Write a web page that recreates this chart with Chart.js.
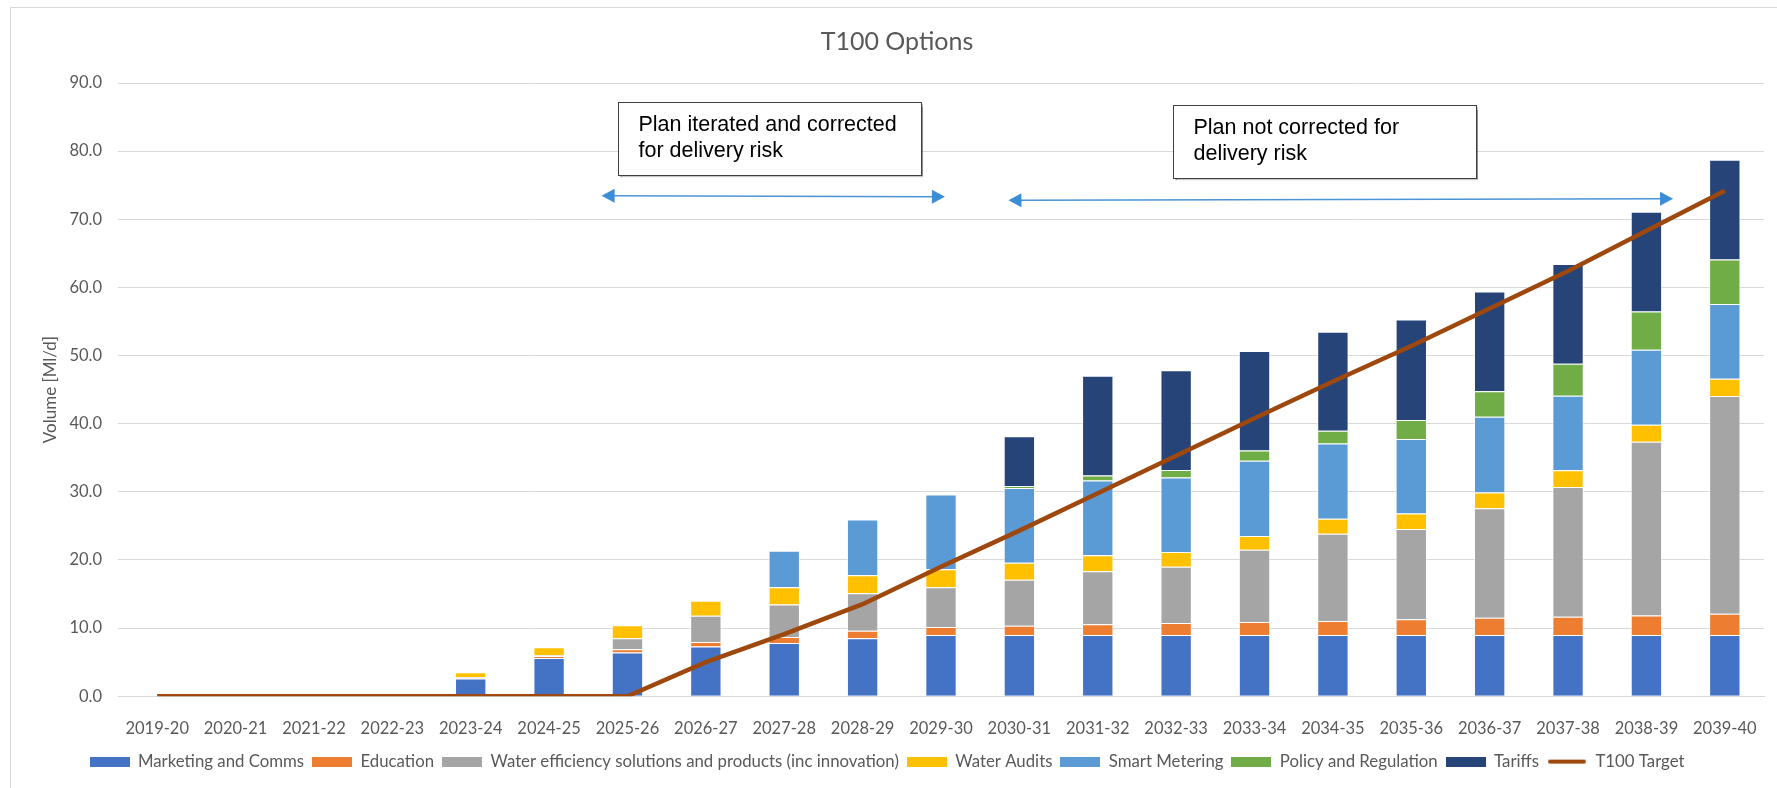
<!DOCTYPE html>
<html>
<head>
<meta charset="utf-8">
<title>T100 Options</title>
<script src="https://cdn.jsdelivr.net/npm/chart.js@4.4.1/dist/chart.umd.min.js"></script>
<style>
  html, body { margin: 0; padding: 0; background: #fff; }
  #wrap { width: 1777px; height: 788px; position: relative; }
</style>
</head>
<body>
<div id="wrap"><canvas id="chart"></canvas></div>
<script>
const years = [
  "2019-20", "2020-21", "2021-22", "2022-23", "2023-24", "2024-25", "2025-26",
  "2026-27", "2027-28", "2028-29", "2029-30", "2030-31", "2031-32", "2032-33",
  "2033-34", "2034-35", "2035-36", "2036-37", "2037-38", "2038-39", "2039-40"
];

// Ml/d per option
const marketing = [0, 0, 0, 0, 2.6, 5.6, 6.4, 7.3, 7.8, 8.5, 9.0, 9.0, 9.0, 9.0, 9.0, 9.0, 9.0, 9.0, 9.0, 9.0, 9.0];
const education = [0, 0, 0, 0, 0.1, 0.3, 0.5, 0.65, 0.9, 1.1, 1.15, 1.35, 1.55, 1.75, 1.9, 2.05, 2.3, 2.5, 2.65, 2.85, 3.1];
const efficiency = [0, 0, 0, 0, 0.1, 0.1, 1.6, 3.85, 4.75, 5.5, 5.85, 6.75, 7.8, 8.25, 10.6, 12.8, 13.25, 16.1, 19.05, 25.5, 31.95];
const audits = [0, 0, 0, 0, 0.7, 1.2, 1.9, 2.2, 2.55, 2.65, 2.65, 2.5, 2.35, 2.15, 2.0, 2.2, 2.25, 2.3, 2.45, 2.5, 2.55];
const metering = [0, 0, 0, 0, 0, 0, 0, 0, 5.35, 8.2, 10.95, 10.95, 10.95, 10.95, 11.05, 11.05, 10.95, 11.1, 10.95, 11.0, 10.95];
const policy = [0, 0, 0, 0, 0, 0, 0, 0, 0, 0, 0, 0.3, 0.75, 1.1, 1.5, 1.85, 2.8, 3.75, 4.7, 5.6, 6.55];
const tariffs = [0, 0, 0, 0, 0, 0, 0, 0, 0, 0, 0, 7.3, 14.65, 14.65, 14.6, 14.55, 14.75, 14.65, 14.65, 14.65, 14.65];
const target = [0, 0, 0, 0, 0, 0, 0, 5.0, 9.1, 13.5, 19.0, 24.3, 29.8, 35.3, 40.8, 46.2, 51.4, 56.9, 62.4, 68.3, 74.2];

const yTicks = [0, 10, 20, 30, 40, 50, 60, 70, 80, 90];

const FONT = "Lato, 'Open Sans', sans-serif";
const TEXT = "#595959";
const GRID = "#d9d9d9";

function bar(label, data, color) {
  return {
    label: label,
    data: data,
    backgroundColor: color,
    borderColor: "rgba(255,255,255,0.7)",
    borderWidth: 1,
    stack: "options",
    order: 1,
    barPercentage: 0.4,
    categoryPercentage: 1
  };
}

const datasets = [
  bar("Marketing and Comms", marketing, "#4472c4"),
  bar("Education", education, "#ed7d31"),
  bar("Water efficiency solutions and products (inc innovation)", efficiency, "#a5a5a5"),
  bar("Water Audits", audits, "#ffc000"),
  bar("Smart Metering", metering, "#5b9bd5"),
  bar("Policy and Regulation", policy, "#70ad47"),
  bar("Tariffs", tariffs, "#264478"),
  {
    type: "line",
    label: "T100 Target",
    data: target,
    borderColor: "#9e480e",
    backgroundColor: "#9e480e",
    borderWidth: 4.5,
    pointRadius: 0,
    tension: 0,
    stack: "target",
    order: 0
  }
];

function swatch(color, isLine) {
  const c = document.createElement("canvas");
  c.width = 40;
  c.height = 10;
  const g = c.getContext("2d");
  if (isLine) {
    g.strokeStyle = color;
    g.lineWidth = 4;
    g.lineCap = "round";
    g.beginPath();
    g.moveTo(3, 5);
    g.lineTo(37, 5);
    g.stroke();
  } else {
    g.fillStyle = color;
    g.fillRect(0, 0, 40, 10);
  }
  return c;
}

// text boxes and the two blue arrows, placed in category / value units
const notes = [
  { x0: 5.88, x1: 9.75, y0: 87.2, y1: 76.5, lines: ["Plan iterated and corrected", "for delivery risk"] },
  { x0: 12.96, x1: 16.82, y0: 86.75, y1: 76.1, lines: ["Plan not corrected for", "delivery risk"] }
];
const arrows = [
  { x0: 5.67, y0: 73.45, x1: 10.05, y1: 73.3 },
  { x0: 10.86, y0: 72.8, x1: 19.34, y1: 73.0 }
];

function arrowHead(ctx, x, y, ang) {
  const len = 13, half = 7;
  ctx.beginPath();
  ctx.moveTo(x, y);
  ctx.lineTo(x - len * Math.cos(ang) + half * Math.sin(ang), y - len * Math.sin(ang) - half * Math.cos(ang));
  ctx.lineTo(x - len * Math.cos(ang) - half * Math.sin(ang), y - len * Math.sin(ang) + half * Math.cos(ang));
  ctx.closePath();
  ctx.fill();
}

const frame = {
  id: "frame",
  beforeDraw(chart) {
    const ctx = chart.ctx;
    ctx.save();
    ctx.fillStyle = "#fff";
    ctx.fillRect(0, 0, chart.width, chart.height);
    ctx.strokeStyle = GRID;
    ctx.lineWidth = 1;
    ctx.strokeRect(10.5, 7.5, chart.width + 20, chart.height + 20);
    ctx.restore();
  },
  afterDraw(chart) {
    const ctx = chart.ctx;
    const xs = chart.scales.x;
    const ys = chart.scales.y;
    ctx.save();

    // chart title, centred on the chart frame
    ctx.fillStyle = TEXT;
    ctx.font = "25px " + FONT;
    ctx.textAlign = "center";
    ctx.textBaseline = "middle";
    ctx.fillText("T100 Options", 897, 42);

    arrows.forEach((a) => {
      const x0 = xs.getPixelForValue(a.x0), y0 = ys.getPixelForValue(a.y0);
      const x1 = xs.getPixelForValue(a.x1), y1 = ys.getPixelForValue(a.y1);
      const ang = Math.atan2(y1 - y0, x1 - x0);
      ctx.strokeStyle = "#4a94d6";
      ctx.fillStyle = "#3b8dd8";
      ctx.lineWidth = 1.5;
      ctx.beginPath();
      ctx.moveTo(x0 + 10 * Math.cos(ang), y0 + 10 * Math.sin(ang));
      ctx.lineTo(x1 - 10 * Math.cos(ang), y1 - 10 * Math.sin(ang));
      ctx.stroke();
      arrowHead(ctx, x1, y1, ang);
      arrowHead(ctx, x0, y0, ang + Math.PI);
    });

    notes.forEach((n) => {
      const left = Math.round(xs.getPixelForValue(n.x0)) + 0.5;
      const right = Math.round(xs.getPixelForValue(n.x1)) + 0.5;
      const top = Math.round(ys.getPixelForValue(n.y0)) + 0.5;
      const bottom = Math.round(ys.getPixelForValue(n.y1)) + 0.5;
      ctx.save();
      ctx.shadowColor = "rgba(0,0,0,0.45)";
      ctx.shadowOffsetX = 1;
      ctx.shadowOffsetY = 1.5;
      ctx.shadowBlur = 1;
      ctx.fillStyle = "#fff";
      ctx.fillRect(left, top, right - left, bottom - top);
      ctx.restore();
      ctx.strokeStyle = "#404040";
      ctx.lineWidth = 1;
      ctx.strokeRect(left, top, right - left, bottom - top);
      ctx.fillStyle = "#000";
      ctx.font = "21.5px 'Liberation Sans', Arial, sans-serif";
      ctx.textAlign = "left";
      ctx.textBaseline = "middle";
      n.lines.forEach((t, i) => {
        ctx.fillText(t, left + 20, top + 23 + i * 26);
      });
    });
    ctx.restore();
  }
};

new Chart(document.getElementById("chart"), {
  type: "bar",
  data: { labels: years, datasets: datasets },
  plugins: [frame],
  options: {
    responsive: true,
    maintainAspectRatio: false,
    animation: false,
    layout: { padding: { top: 83, left: 10, right: 13, bottom: 8 } },
    plugins: {
      title: { display: false },
      legend: {
        position: "bottom",
        labels: {
          color: TEXT,
          font: { family: FONT, size: 16.8 },
          usePointStyle: true,
          pointStyleWidth: 40,
          boxHeight: 10,
          padding: 8,
          generateLabels(chart) {
            return chart.data.datasets.map((ds, i) => ({
              text: ds.label,
              pointStyle: swatch(ds.type === "line" ? ds.borderColor : ds.backgroundColor, ds.type === "line"),
              fillStyle: ds.backgroundColor,
              strokeStyle: ds.backgroundColor,
              lineWidth: 0,
              fontColor: TEXT,
              hidden: false,
              datasetIndex: i
            }));
          }
        }
      },
      tooltip: { enabled: false }
    },
    scales: {
      x: {
        stacked: true,
        grid: { display: false },
        border: { display: true, color: GRID, width: 1 },
        ticks: {
          color: TEXT,
          font: { family: FONT, size: 16.5 },
          padding: 15,
          maxRotation: 0,
          autoSkip: false
        },
        afterFit(scale) {
          scale.height = 49;
        }
      },
      y: {
        stacked: true,
        min: 0,
        max: 90,
        afterBuildTicks(scale) {
          scale.ticks = yTicks.map((v) => ({ value: v }));
        },
        grid: { color: GRID, lineWidth: 1, drawTicks: false },
        border: { display: false },
        ticks: {
          color: TEXT,
          font: { family: FONT, size: 16.5 },
          padding: 16,
          callback: (v) => Number(v).toFixed(1)
        },
        title: {
          display: true,
          text: "Volume [Ml/d]",
          color: TEXT,
          font: { family: FONT, size: 17 },
          padding: { top: 30, bottom: 0 }
        },
        afterFit(scale) {
          scale.width = 108;
        }
      }
    }
  }
});
</script>
</body>
</html>
